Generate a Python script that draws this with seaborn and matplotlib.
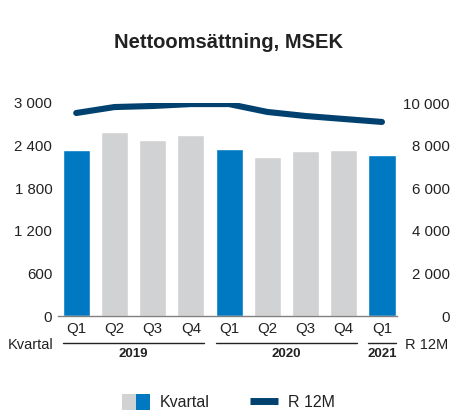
import numpy as np
import pandas as pd
import matplotlib
matplotlib.use("Agg")
import matplotlib.pyplot as plt
import matplotlib.patches as mpatches
import matplotlib.lines as mlines
from matplotlib.legend_handler import HandlerTuple
import seaborn as sns

# ---- data ----
quarters = ["Q1", "Q2", "Q3", "Q4", "Q1", "Q2", "Q3", "Q4", "Q1"]
years = ["2019", "2019", "2019", "2019", "2020", "2020", "2020", "2020", "2021"]
kvartal = [2340, 2590, 2480, 2550, 2350, 2240, 2320, 2340, 2270]
r12m = [9530, 9810, 9860, 9950, 9950, 9580, 9390, 9250, 9110]

BLUE = "#0079C2"
GREY = "#D1D2D4"
NAVY = "#00416F"
TEXT = "#222222"

sns.set_theme(style="white")
plt.rcParams['font.family'] = ['Liberation Sans', 'DejaVu Sans']

df = pd.DataFrame({"period": [f"{y} {q}" for y, q in zip(years, quarters)],
                   "quarter": quarters, "year": years, "kvartal": kvartal})
df["pos"] = np.arange(len(df))
palette = {p: (BLUE if q == "Q1" else GREY) for p, q in zip(df["period"], df["quarter"])}

fig = plt.figure(figsize=(4.52, 4.12), dpi=100)
ax = fig.add_axes([0.128, 0.233, 0.750, 0.517])

sns.barplot(data=df, x="period", y="kvartal", hue="period", palette=palette,
            width=0.71, saturation=1, legend=False, ax=ax)
ax.set_xlim(-0.48, 8.39)
ax.set_ylim(0, 3000)
ax.set_yticks([0, 600, 1200, 1800, 2400, 3000])
ax.set_yticklabels(["0", "600", "1 200", "1 800", "2 400", "3 000"])
ax.set_xticks(df["pos"])
ax.set_xticklabels(quarters)
ax.set_xlabel("")
ax.set_ylabel("")
ax.tick_params(axis="both", length=0, labelsize=10.8, colors=TEXT)
ax.tick_params(axis="y", pad=4)
ax.tick_params(axis="x", pad=4)
for s in ["top", "left", "right"]:
    ax.spines[s].set_visible(False)
ax.spines["bottom"].set_color("#808080")
ax.spines["bottom"].set_linewidth(1.0)

ax2 = ax.twinx()
sns.lineplot(x=df["pos"], y=r12m, color=NAVY, linewidth=4.4, ax=ax2)
ax2.set_ylim(0, 10000)
ax2.set_yticks([0, 2000, 4000, 6000, 8000, 10000])
ax2.set_yticklabels(["0", "2 000", "4 000", "6 000", "8 000", "10 000"])
ax2.set_ylabel("")
ax2.tick_params(axis="y", length=0, labelsize=10.8, colors=TEXT, pad=38)
for lbl in ax2.get_yticklabels():
    lbl.set_horizontalalignment("right")
for s in ax2.spines.values():
    s.set_visible(False)

# year group brackets under quarter labels
trans = matplotlib.transforms.blended_transform_factory(ax.transData, fig.transFigure)
for yr in ["2019", "2020", "2021"]:
    idx = df.index[df["year"] == yr]
    x0, x1 = idx.min() - 0.355, idx.max() + 0.355
    line = mlines.Line2D([x0, x1], [1 - 343 / 412] * 2, transform=trans,
                         color="#222222", linewidth=1.0, clip_on=False)
    fig.add_artist(line)
    fig.text((idx.min() + idx.max()) / 2, 1 - 354 / 412, yr, transform=trans,
             ha="center", va="center", fontsize=9.5, fontweight="bold", color=TEXT)

fig.text(8 / 452, 1 - 345 / 412, "Kvartal", ha="left", va="center",
         fontsize=10.5, color=TEXT)
fig.text(405 / 452, 1 - 345 / 412, "R 12M", ha="left", va="center",
         fontsize=10.5, color=TEXT)

fig.text(0.505, 1 - 43 / 412, "Nettoomsättning, MSEK", ha="center", va="center",
         fontsize=14.5, fontweight="bold", color=TEXT)

h_bar = (mpatches.Patch(facecolor=GREY, edgecolor="none"),
         mpatches.Patch(facecolor=BLUE, edgecolor="none"))
h_line = mlines.Line2D([], [], color=NAVY, linewidth=5, solid_capstyle="butt")
fig.legend([h_bar, h_line], ["Kvartal", "R 12M"],
           handler_map={tuple: HandlerTuple(ndivide=None, pad=0)},
           loc="center", bbox_to_anchor=(0.505, 1 - 402 / 412), ncol=2,
           frameon=False, fontsize=11.5, handlelength=1.8, handleheight=1.2,
           handletextpad=0.6, columnspacing=2.5, labelcolor=TEXT,
           borderpad=0.2)

fig.savefig("out.png", dpi=100, facecolor="white")
